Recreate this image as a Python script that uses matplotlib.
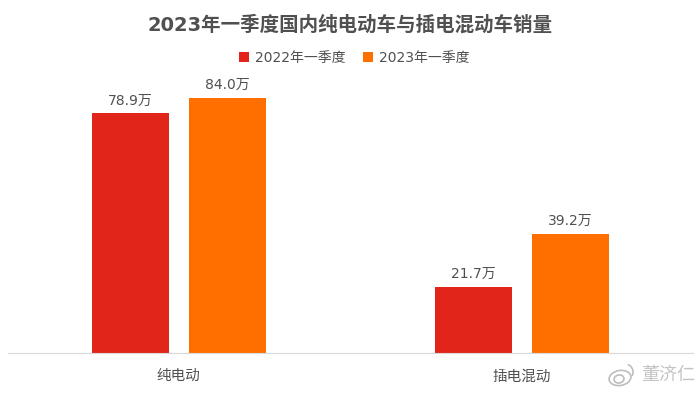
import matplotlib
matplotlib.use('Agg')
import matplotlib.pyplot as plt
from matplotlib.patches import Ellipse, Arc
import numpy as np

plt.rcParams['font.family'] = ['DejaVu Sans', 'Noto Sans CJK SC']

categories = ['纯电动', '插电混动']
series_names = ['2022年一季度', '2023年一季度']
values_2022 = [78.9, 21.7]
values_2023 = [84.0, 39.2]
colors = ['#E1251B', '#FF6F00']
text_color = '#505050'

fig = plt.figure(figsize=(7, 3.94), dpi=100)
ax = fig.add_axes([7.5 / 700, 1 - 353 / 394, 685.5 / 700, 293 / 394])

# posiciones de las categorias
x = np.array([0, 1])
w = 77 / 343
gap = 97 / 343

ax.bar(x - gap / 2, values_2022, w, color=colors[0], label=series_names[0])
ax.bar(x + gap / 2, values_2023, w, color=colors[1], label=series_names[1])

for xi, v in zip(x - gap / 2, values_2022):
    ax.text(xi, v + 1.9, f'{v:.1f}万', ha='center', va='bottom', fontsize=10, color=text_color)
for xi, v in zip(x + gap / 2, values_2023):
    ax.text(xi, v + 1.9, f'{v:.1f}万', ha='center', va='bottom', fontsize=10, color=text_color)

ax.set_xlim(-0.5, 1.5)
ax.set_ylim(0, 96.5)
ax.set_xticks(x)
ax.set_xticklabels(categories, fontsize=10.5, color=text_color)
ax.tick_params(axis='x', length=0, pad=11)
ax.set_yticks([])
for s in ['top', 'left', 'right']:
    ax.spines[s].set_visible(False)
ax.spines['bottom'].set_color('#D9D9D9')

fig.text(0.5, 1 - 25 / 394, '2023年一季度国内纯电动车与插电混动车销量', ha='center', va='center',
         fontsize=14, fontweight='bold', color=text_color)

fig.legend(loc='center', bbox_to_anchor=(354 / 700, 1 - 58 / 394), ncol=2, frameon=False, fontsize=10,
           handlelength=0.75, handleheight=0.75, handletextpad=0.4, columnspacing=1.25, labelcolor=text_color)

# marca de agua de weibo, en pixeles
wm = fig.add_axes([0, 0, 1, 1])
wm.set_xlim(0, 700)
wm.set_ylim(394, 0)
wm.axis('off')
wm.add_patch(Ellipse((620, 378), 22, 15, angle=-10, fill=False, ec='#BDBDBD', lw=1.2))
wm.add_patch(Ellipse((619, 379), 10, 8, angle=-10, fill=False, ec='#BDBDBD', lw=1.2))
wm.add_patch(Arc((625, 372), 16, 16, theta1=-70, theta2=30, ec='#BDBDBD', lw=1.2))
wm.text(695, 375, '董济仁', ha='right', va='center', fontsize=13, color='#C4C4C4')

fig.savefig('out.png', dpi=100)
